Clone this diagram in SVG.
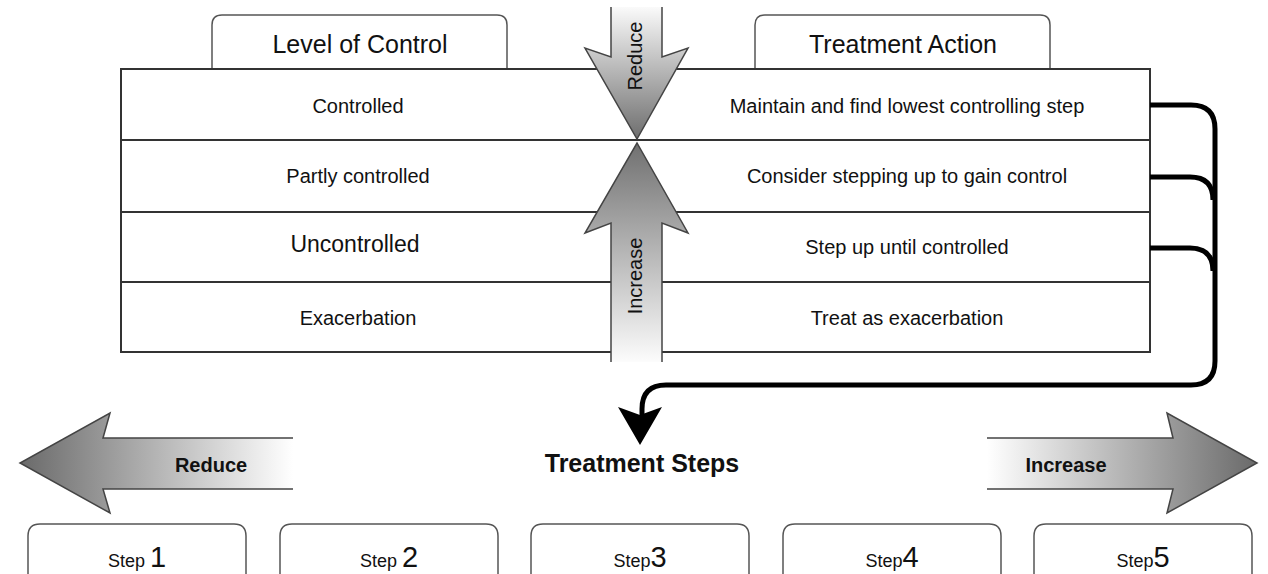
<svg xmlns="http://www.w3.org/2000/svg" width="1268" height="574" viewBox="0 0 1268 574">
<defs>
<linearGradient id="gRedV" x1="0" y1="0" x2="0" y2="1"><stop offset="0" stop-color="#fafafa"/><stop offset="1" stop-color="#6e6e6e"/></linearGradient>
<linearGradient id="gIncV" x1="0" y1="0" x2="0" y2="1"><stop offset="0" stop-color="#707070"/><stop offset="1" stop-color="#fcfcfc"/></linearGradient>
<linearGradient id="gRedH" x1="0" y1="0" x2="1" y2="0"><stop offset="0" stop-color="#6a6a6a"/><stop offset="1" stop-color="#ffffff"/></linearGradient>
<linearGradient id="gIncH" x1="0" y1="0" x2="1" y2="0"><stop offset="0" stop-color="#ffffff"/><stop offset="1" stop-color="#6a6a6a"/></linearGradient>
</defs>
<style>
text{font-family:"Liberation Sans",Arial,sans-serif;fill:#111;}
.c{text-anchor:middle;}
.t20{font-size:20px;}
.t25{font-size:25px;}
.b{font-weight:bold;}
.tab{fill:#fff;stroke:#555;stroke-width:1.5;}
.row{fill:#fff;stroke:#333;stroke-width:2;}
.edge{fill:none;stroke:#444;stroke-width:1.5;}
.conn{fill:none;stroke:#000;stroke-width:5;}
.step{fill:#fff;stroke:#555;stroke-width:1.5;}
.sw{font-size:18px;}
.sn{font-size:29px;}
</style>

<g id="tab-level">
<path class="tab" d="M212,69 V25 Q212,15 222,15 H497 Q507,15 507,25 V69"/>
<text class="c t25" x="360" y="53">Level of Control</text>
</g>
<g id="tab-action">
<path class="tab" d="M755,69 V25 Q755,15 765,15 H1040 Q1050,15 1050,25 V69"/>
<text class="c t25" x="903" y="53">Treatment Action</text>
</g>

<g id="table">
<rect class="row" x="121" y="69" width="1029" height="71"/>
<rect class="row" x="121" y="140" width="1029" height="72"/>
<rect class="row" x="121" y="212" width="1029" height="70"/>
<rect class="row" x="121" y="282" width="1029" height="70"/>
</g>
<g id="row-controlled">
<text class="c t20" x="358" y="113">Controlled</text>
<text class="c t20" x="907" y="113">Maintain and find lowest controlling step</text>
</g>
<g id="row-partly">
<text class="c t20" x="358" y="183">Partly controlled</text>
<text class="c t20" x="907" y="183">Consider stepping up to gain control</text>
</g>
<g id="row-uncontrolled">
<text class="c" style="font-size:23px" x="355" y="252">Uncontrolled</text>
<text class="c t20" x="907" y="254">Step up until controlled</text>
</g>
<g id="row-exacerbation">
<text class="c t20" x="358" y="325">Exacerbation</text>
<text class="c t20" x="907" y="325">Treat as exacerbation</text>
</g>

<g id="arrow-reduce-v">
<path d="M611,7 V57 L585,48 L637,139 L688,48 L662,57 V7 Z" fill="url(#gRedV)"/>
<path class="edge" d="M611,7 V57 L585,48 L637,139 L688,48 L662,57 V7"/>
<text class="t20 c" transform="translate(642,56) rotate(-90)">Reduce</text>
</g>
<g id="arrow-increase-v">
<path d="M611,362 V223 L585,233 L637,143 L688,233 L662,223 V362 Z" fill="url(#gIncV)"/>
<path class="edge" d="M611,362 V223 L585,233 L637,143 L688,233 L662,223 V362"/>
<text class="t20 c" transform="translate(642,276) rotate(-90)">Increase</text>
</g>

<g id="connectors">
<path class="conn" d="M1150,105 H1191 Q1215,105 1215,129 V361 Q1215,385 1191,385 H666 Q642,385 642,409 V418"/>
<path class="conn" d="M1150,177 H1190 Q1213,177 1213,200"/>
<path class="conn" d="M1150,248 H1190 Q1213,248 1213,271"/>
<path d="M618,407 L640,415 L662,407 L640,445 Z" fill="#000"/>
</g>

<g id="title">
<text class="c t25 b" x="642" y="472">Treatment Steps</text>
</g>

<g id="arrow-reduce-h">
<path d="M293,438 H103 L110,413 L20,463 L110,513 L103,489 H293 Z" fill="url(#gRedH)"/>
<path class="edge" d="M293,438 H103 L110,413 L20,463 L110,513 L103,489 H293"/>
<text class="c t20 b" x="211" y="472">Reduce</text>
</g>
<g id="arrow-increase-h">
<path d="M987,438 H1173 L1167,413 L1257,463 L1167,513 L1173,489 H987 Z" fill="url(#gIncH)"/>
<path class="edge" d="M987,438 H1173 L1167,413 L1257,463 L1167,513 L1173,489 H987"/>
<text class="c t20 b" x="1066" y="472">Increase</text>
</g>

<g id="step1">
<path class="step" d="M28,580 V536 Q28,524 40,524 H234 Q246,524 246,536 V580"/>
<text class="c" x="137" y="567"><tspan class="sw">Step </tspan><tspan class="sn">1</tspan></text>
</g>
<g id="step2">
<path class="step" d="M280,580 V536 Q280,524 292,524 H486 Q498,524 498,536 V580"/>
<text class="c" x="389" y="567"><tspan class="sw">Step </tspan><tspan class="sn">2</tspan></text>
</g>
<g id="step3">
<path class="step" d="M531,580 V536 Q531,524 543,524 H737 Q749,524 749,536 V580"/>
<text class="c" x="640" y="567"><tspan class="sw">Step</tspan><tspan class="sn">3</tspan></text>
</g>
<g id="step4">
<path class="step" d="M783,580 V536 Q783,524 795,524 H989 Q1001,524 1001,536 V580"/>
<text class="c" x="892" y="567"><tspan class="sw">Step</tspan><tspan class="sn">4</tspan></text>
</g>
<g id="step5">
<path class="step" d="M1034,580 V536 Q1034,524 1046,524 H1240 Q1252,524 1252,536 V580"/>
<text class="c" x="1143" y="567"><tspan class="sw">Step</tspan><tspan class="sn">5</tspan></text>
</g>
</svg>
